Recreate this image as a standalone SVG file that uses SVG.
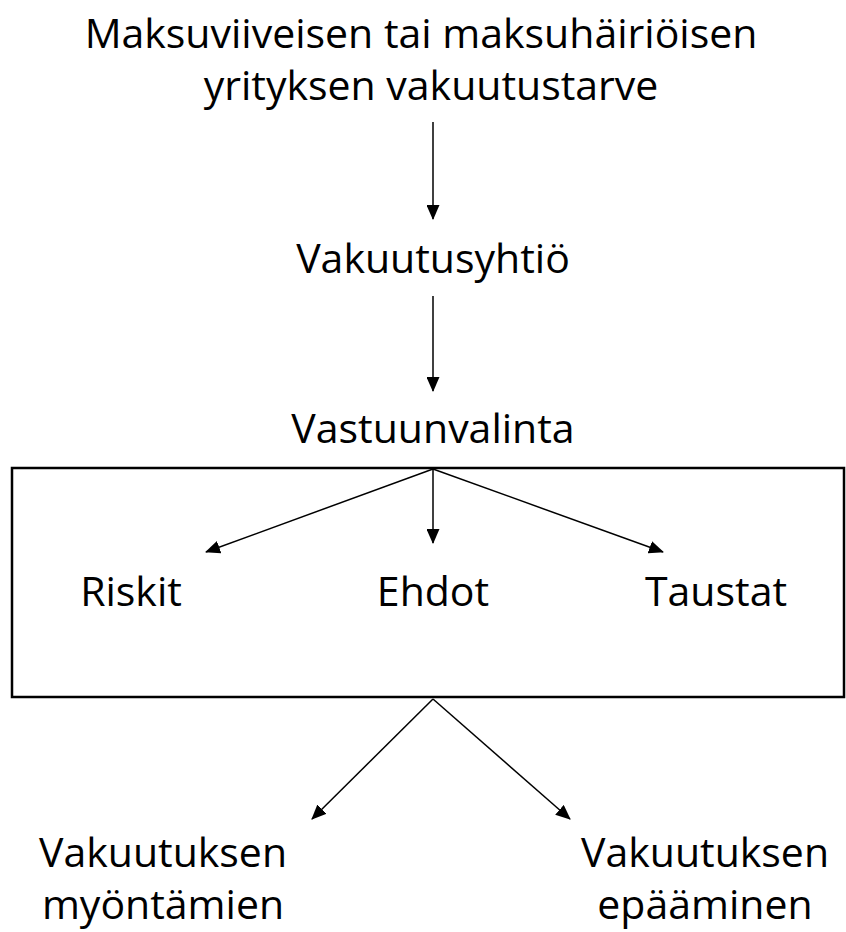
<svg xmlns="http://www.w3.org/2000/svg" width="846" height="932" viewBox="0 0 846 932">
<style>
text{font-family:"Open Sans","Noto Sans",sans-serif;font-size:41px;fill:#000;text-anchor:middle}
.c line{stroke:#000;stroke-width:1.5;marker-end:url(#ah)}
</style>
<defs>
<marker id="ah" markerWidth="15" markerHeight="13" refX="14" refY="6.5" orient="auto" markerUnits="userSpaceOnUse">
<path d="M0,0 L15,6.5 L0,13 Z" fill="#000"/>
</marker>
</defs>
<rect width="846" height="932" fill="#fff"/>
<g id="need"><text x="421" y="48">Maksuviiveisen tai maksuhäiriöisen</text><text x="431" y="100">yrityksen vakuutustarve</text></g>
<g id="company"><text x="433" y="273">Vakuutusyhtiö</text></g>
<g id="selection"><rect x="12" y="468" width="832" height="229" fill="none" stroke="#000" stroke-width="2.5"/><text x="433" y="443">Vastuunvalinta</text></g>
<g id="riskit"><text x="131" y="606">Riskit</text></g>
<g id="ehdot"><text x="433" y="606">Ehdot</text></g>
<g id="taustat"><text x="716" y="606">Taustat</text></g>
<g id="grant"><text x="163" y="867">Vakuutuksen</text><text x="163" y="919">myöntämien</text></g>
<g id="deny"><text x="705" y="867">Vakuutuksen</text><text x="705" y="919">epääminen</text></g>
<g class="c" id="connectors">
<line x1="433" y1="122" x2="433" y2="219"/>
<line x1="433" y1="296" x2="433" y2="391"/>
<line x1="433" y1="469" x2="206" y2="552"/>
<line x1="433" y1="469" x2="433" y2="543"/>
<line x1="433" y1="469" x2="663" y2="552"/>
<line x1="433" y1="699" x2="312" y2="819"/>
<line x1="433" y1="699" x2="570" y2="819"/>
</g>
</svg>
